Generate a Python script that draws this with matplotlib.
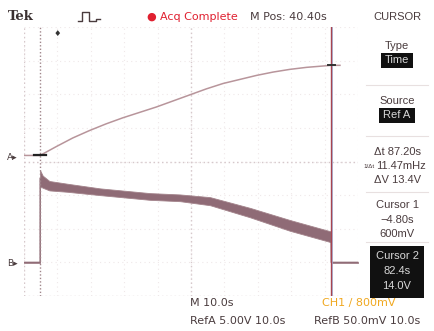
import matplotlib
matplotlib.use("Agg")
import matplotlib.pyplot as plt
import numpy as np

# ---- data ----
# Ref A (upper trace), volts vs seconds
refa_t = [-9.6, -4.8, 0, 5, 10, 15, 20, 25, 30, 35, 40, 45, 50, 55, 60, 65, 70, 75, 82.4, 85.0]
refa_v = [0.6, 0.6, 1.9, 3.2, 4.3, 5.3, 6.2, 7.0, 7.8, 8.7, 9.6, 10.5, 11.3, 11.9, 12.5, 13.0, 13.4, 13.7, 14.0, 14.0]

# Ref B (lower trace), mV vs seconds: band centre and half width
refb_t = [-9.6, -4.81, -4.8, -4.0, -2.0, 3.3, 13.2, 28.1, 37.1, 46.1, 58.1, 70.0, 82.3, 82.35, 90.4]
refb_mv = [0, 0, 125, 120, 114, 111, 105, 98, 96, 91, 74, 55, 38, 0, 0]
refb_hw = [1, 1, 12, 9, 7, 6, 5, 5, 5, 6, 7, 8, 8, 1, 1]

cursor1, cursor2 = -4.80, 82.4
mpos = 40.40
sec_div = 10.0
volt_div_a = 5.0
mv_div_b = 50.0
off_a = 0.06   # ground marker positions in divisions
off_b = -3.0

W, H = 434, 331
fig = plt.figure(figsize=(W / 100, H / 100), dpi=100)
fig.patch.set_facecolor("white")

def px(x, y):
    return x / W, 1 - y / H

ax = fig.add_axes([24 / W, (H - 296) / H, (358 - 24) / W, (296 - 27) / H])
left = mpos - 5 * sec_div
ax.set_xlim(left, left + 10 * sec_div)
ax.set_ylim(-4, 4)
ax.set_xticks([]); ax.set_yticks([])
for s in ax.spines.values():
    s.set_visible(False)

grid_c = "#efe8e9"
for k in range(11):
    ax.axvline(left + k * sec_div, color=grid_c, lw=0.8, ls=(0, (1, 3)), zorder=0)
for k in range(-4, 5):
    ax.axhline(k, color=grid_c, lw=0.8, ls=(0, (1, 3)), zorder=0)
edge_c = "#d6c8cb"
ax.axhline(0, color=edge_c, lw=1.0, ls=(0, (1, 2)), zorder=0.5)
ax.axvline(mpos, color=edge_c, lw=1.0, ls=(0, (1, 2)), zorder=0.5)
ax.axhline(-4, color=edge_c, lw=1.0, ls=(0, (1, 2)), zorder=0.5)
ax.axvline(left, color=edge_c, lw=1.0, ls=(0, (1, 2)), zorder=0.5)

# traces
ta = np.array(refa_t); va = np.array(refa_v) / volt_div_a + off_a
ax.plot(ta, va, color="#b8959b", lw=1.1, zorder=3)

tb = np.array(refb_t)
cb = np.array(refb_mv) / mv_div_b + off_b
hb = np.array(refb_hw) / mv_div_b
ax.fill_between(tb, cb - hb, cb + hb, color="#8f6b76", lw=0.6, edgecolor="#a3838b", zorder=3)
ax.plot(tb, cb, color="#8f6b76", lw=0.8, zorder=3)

# cursors
ax.axvline(cursor1, color="#a0868b", lw=1.0, ls=(0, (1, 1.5)), zorder=4)
ax.axvline(cursor2 + 0.25, color="#9fb2dc", lw=0.6, zorder=4)
ax.axvline(cursor2, color="#a84450", lw=1.0, zorder=4)
ax.plot([cursor1 - 1.8, cursor1 + 1.8], [0.6 / volt_div_a + off_a] * 2, color="#222", lw=1.6, zorder=5)
ax.plot([cursor2 - 1.0, cursor2 + 1.0], [14.0 / volt_div_a + off_a] * 2, color="#333", lw=1.4, zorder=5)

tc = "#4a3c3e"
fn = ["DejaVu Sans"]
fp = ["Liberation Sans", "DejaVu Sans"]

# trigger marker and channel markers
fig.text(*px(57, 33), "\u2666", color="#333", fontsize=6, ha="center", va="center")
fig.text(*px(12, 158), "A\u25b8", color=tc, fontsize=6.5, ha="center", va="center", family=fn)
fig.text(*px(12, 263), "B\u25b8", color=tc, fontsize=6.5, ha="center", va="center", family=fn)

# top bar
fig.text(*px(8, 17), "Tek", color="#3a3030", fontsize=9.5, fontweight="bold", family="DejaVu Serif", va="center")
pulse_x = [78, 82, 82, 89, 89, 96, 96, 100]
pulse_y = [21, 21, 12, 12, 21, 21, 19, 19]
fig.add_artist(plt.Line2D([x / W for x in pulse_x], [1 - y / H for y in pulse_y], color=tc, lw=1.0))
fig.text(*px(151, 17), "\u25cf", color="#e02030", fontsize=8, ha="center", va="center")
fig.text(*px(160, 17), "Acq Complete", color="#e02030", fontsize=8, va="center", family=fn)
fig.text(*px(250, 17), "M Pos: 40.40s", color=tc, fontsize=8, va="center", family=fn)
fig.text(*px(397, 17), "CURSOR", color=tc, fontsize=8, ha="center", va="center", family=fp)

# side menu
cx = 397
def box(y0, y1, x0, x1):
    ax2 = fig.add_axes([x0 / W, (H - y1) / H, (x1 - x0) / W, (y1 - y0) / H])
    ax2.set_facecolor("#111111")
    ax2.set_xticks([]); ax2.set_yticks([])
    for s in ax2.spines.values():
        s.set_visible(False)

box(53, 68, 381, 413)
box(108, 123, 379, 415)
box(246, 298, 370, 424)

kw = dict(fontsize=8, ha="center", va="center", family=fp)
fig.text(*px(cx, 46), "Type", color=tc, **kw)
fig.text(*px(cx, 60), "Time", color="#d8d8d8", **kw)
fig.text(*px(cx, 101), "Source", color=tc, **kw)
fig.text(*px(cx, 115), "Ref A", color="#d8d8d8", **kw)
fig.text(*px(cx, 152), "\u0394t 87.20s", color=tc, **kw)
fig.text(*px(369, 166), "1/\u0394t", color=tc, fontsize=4.5, ha="center", va="center", family=fp)
fig.text(*px(376, 166), "11.47mHz", color=tc, fontsize=8, ha="left", va="center", family=fp)
fig.text(*px(cx, 180), "\u0394V 13.4V", color=tc, **kw)
fig.text(*px(cx, 205), "Cursor 1", color=tc, **kw)
fig.text(*px(cx, 220), "\u22124.80s", color=tc, **kw)
fig.text(*px(cx, 234), "600mV", color=tc, **kw)
fig.text(*px(cx, 256), "Cursor 2", color="#d8d8d8", **kw)
fig.text(*px(cx, 271), "82.4s", color="#d8d8d8", **kw)
fig.text(*px(cx, 286), "14.0V", color="#d8d8d8", **kw)

for y in (85, 136, 192, 242):
    fig.add_artist(plt.Line2D([366 / W, 428 / W], [1 - y / H] * 2, color="#e8e0e0", lw=0.8))

# bottom readouts
fig.text(*px(190, 303), "M 10.0s", color=tc, fontsize=8, va="center", family=fn)
fig.text(*px(322, 303), "CH1 \u2215 800mV", color="#f0a820", fontsize=8, va="center", family=fn)
fig.text(*px(190, 321), "RefA 5.00V 10.0s", color=tc, fontsize=8, va="center", family=fn)
fig.text(*px(314, 321), "RefB 50.0mV 10.0s", color=tc, fontsize=8, va="center", family=fn)

fig.savefig("out.png", dpi=100)
